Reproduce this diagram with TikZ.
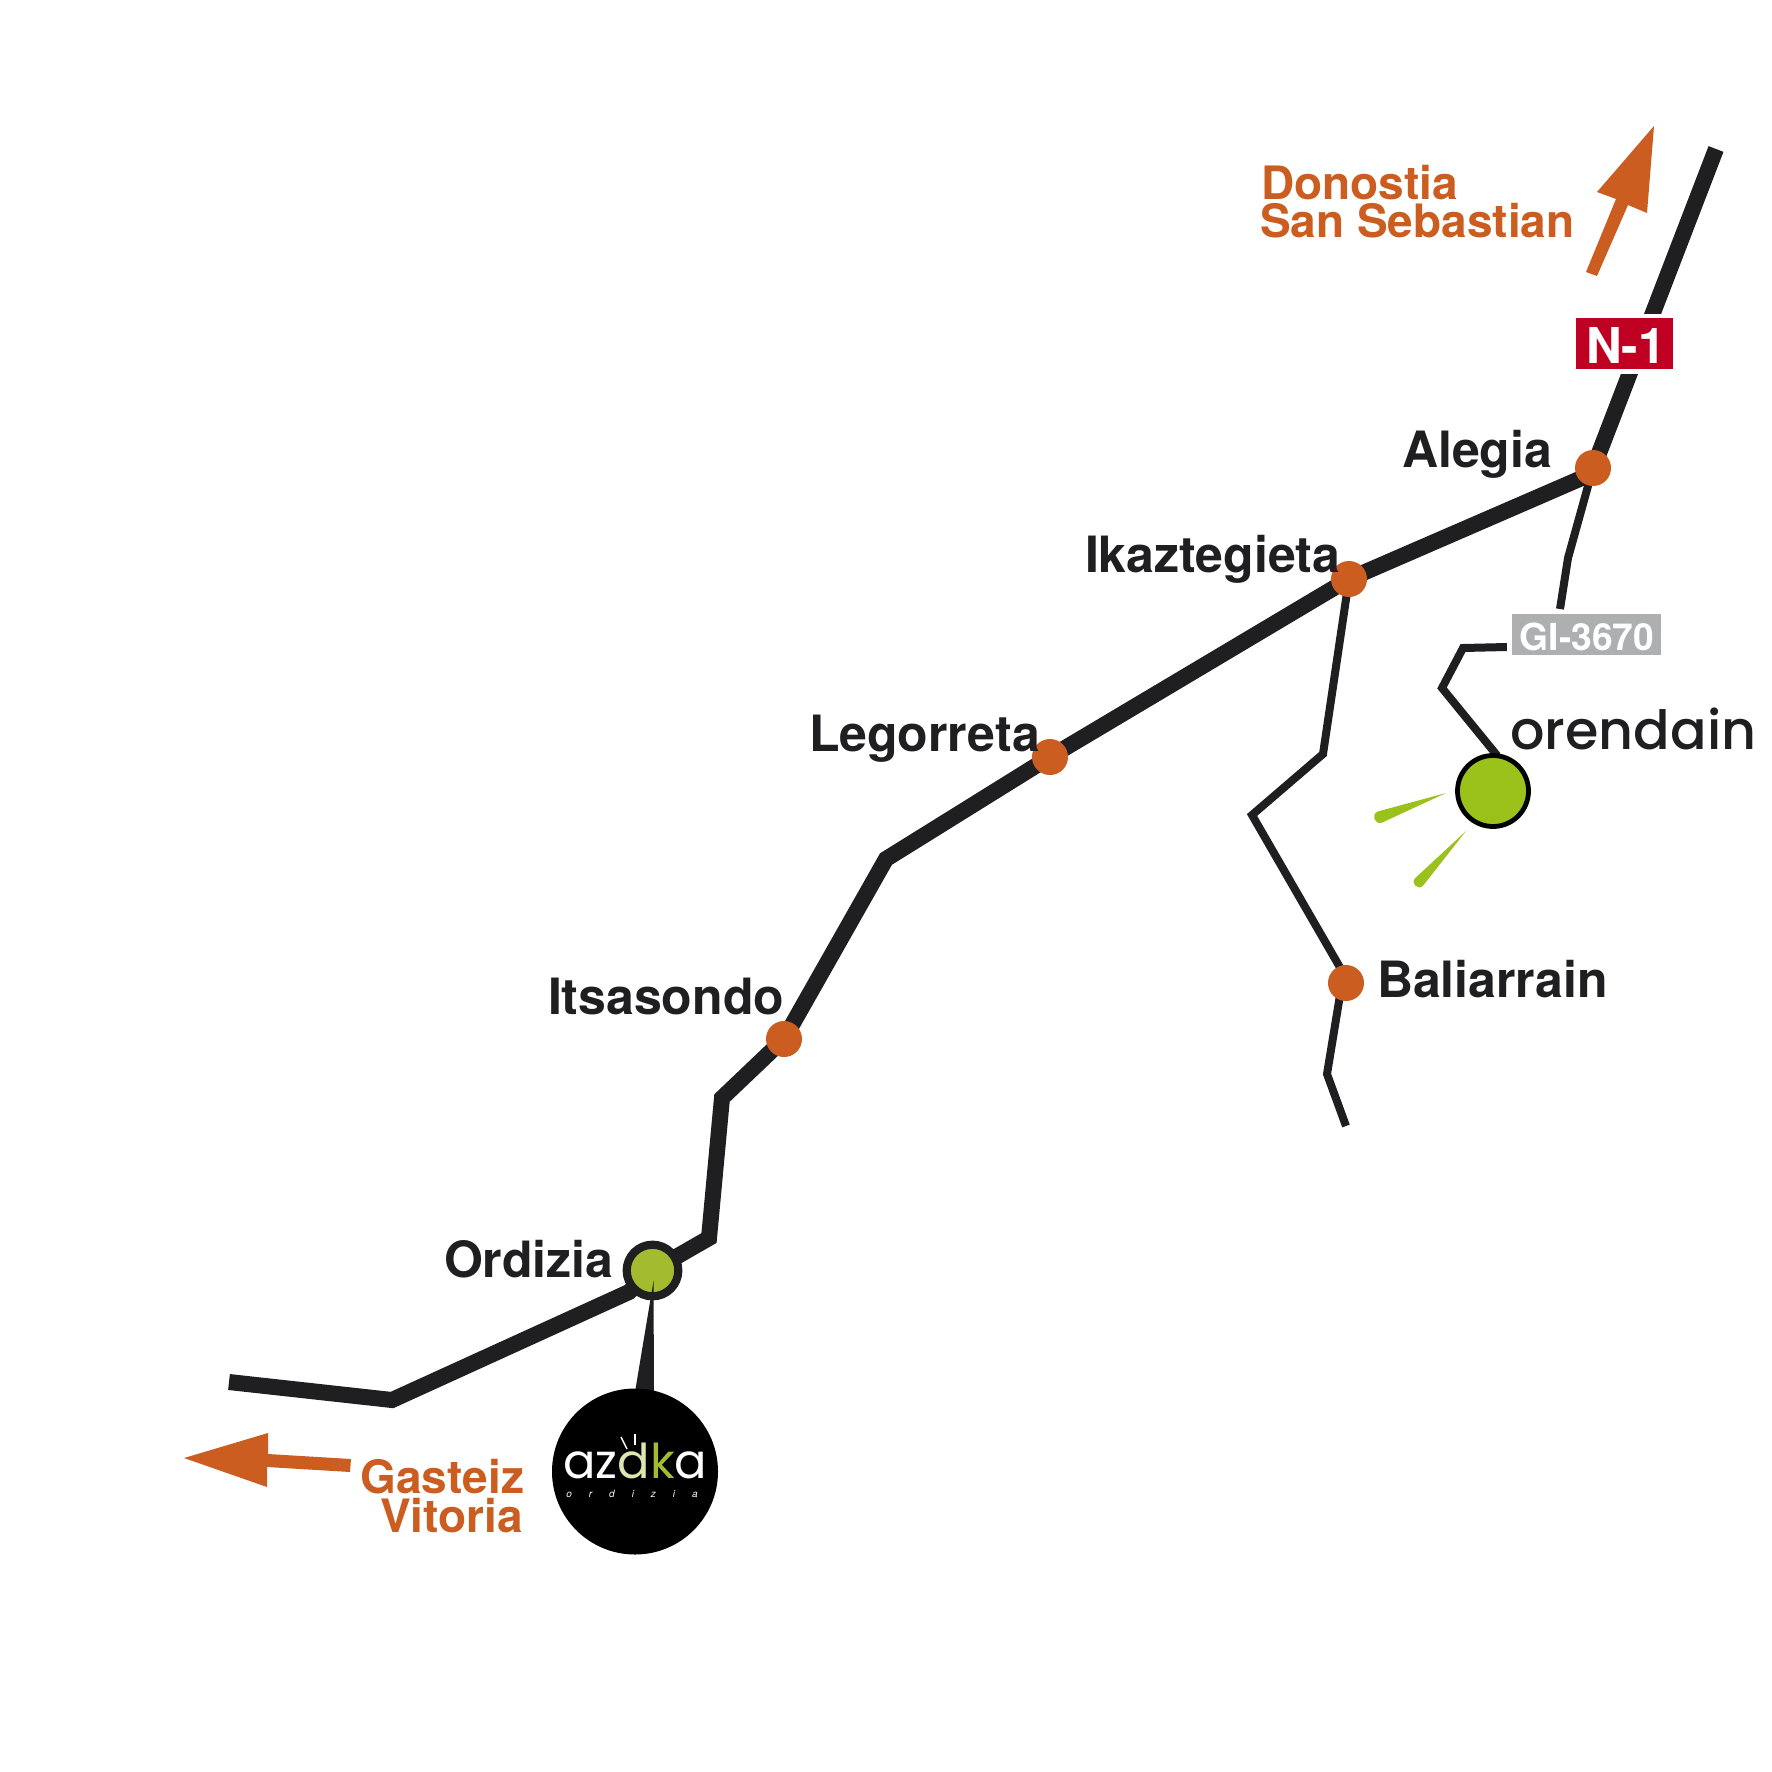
\documentclass[tikz,border=0pt]{standalone}
\usepackage{fontspec}
\usetikzlibrary{backgrounds}
\setmainfont{TeX Gyre Heros}
\newfontfamily\logofont{Poppins}
\newfontfamily\orenfont[UprightFont=* Medium]{Poppins}
\newfontfamily\ordfont[LetterSpace=170]{TeX Gyre Heros}
\definecolor{roadc}{HTML}{1F1F21}
\definecolor{orangec}{HTML}{CA5D1F}
\definecolor{limec}{HTML}{9BC21B}
\definecolor{olivec}{HTML}{A3BB2F}
\definecolor{redc}{HTML}{BF0023}
\definecolor{greyc}{HTML}{AEAFB1}
\definecolor{paled}{HTML}{DDE5B0}
\tikzset{
  road/.style={draw=roadc,line width=8pt,line join=miter,miter limit=10},
  lane/.style={draw=roadc,line width=4pt,line join=miter,miter limit=10},
  stop/.style={circle,fill=orangec,minimum size=18pt,inner sep=0pt,outer sep=0pt},
  town/.style={anchor=base west,inner sep=0pt,outer sep=0pt,text=roadc,font=\fontsize{25pt}{25pt}\selectfont\bfseries},
  dest/.style={anchor=base west,inner sep=0pt,outer sep=0pt,text=orangec,font=\fontsize{23pt}{23pt}\selectfont\bfseries},
  sign/.style={inner sep=0pt,outer sep=0pt,text=white,font=\bfseries},
  ray/.style={fill=limec,draw=none},
  tag/.style={fill=orangec,draw=none}
}
\begin{document}
\begin{tikzpicture}[x=0.5pt,y=-0.5pt]
\useasboundingbox (0,0) rectangle (1772,1772);

% stops
\node[stop] (alegia) at (1593,468) {};
\node[stop] (ikaz) at (1349,579) {};
\node[stop] (legorreta) at (1050,757) {};
\node[stop] (itsasondo) at (784,1039) {};
\node[stop] (baliarrain) at (1346,983) {};
\node[circle,fill=olivec,draw=roadc,line width=4.1pt,minimum size=25.8pt,inner sep=0pt,outer sep=0pt] (ordizia) at (652.5,1270.5) {};
\node[circle,fill=limec,draw=black,line width=2.4pt,minimum size=35.5pt,inner sep=0pt,outer sep=0pt] (orendain) at (1493,791) {};

% free ends and bends
\coordinate (ntop) at (1716,149);
\coordinate (a1) at (1591,474);
\coordinate (b1) at (886,859);
\coordinate (b2) at (722,1098);
\coordinate (b3) at (709,1238);
\coordinate (b4) at (629,1292);
\coordinate (b5) at (392,1400);
\coordinate (nend) at (229,1382);
\coordinate (c1) at (1568,558);
\coordinate (c2) at (1560,609);
\coordinate (d1) at (1507,647);
\coordinate (d2) at (1463,648);
\coordinate (d3) at (1442,688);
\coordinate (e1) at (1323,754);
\coordinate (e2) at (1252,815);
\coordinate (e3) at (1349,983);
\coordinate (e3b) at (1342,983);
\coordinate (e4) at (1327,1074);
\coordinate (e5) at (1346,1126);

\begin{scope}[on background layer]
\fill[white] (0,0) rectangle (1772,1772);
\draw[road] (ntop) -- (a1) -- (ikaz.center) -- (legorreta.center) -- (b1) -- (itsasondo.center) -- (b2) -- (b3) -- (ordizia.center);
\draw[road] (ordizia.center) -- (b4) -- (b5) -- (nend);
\draw[lane] (alegia.center) -- (c1) -- (c2);
\draw[lane] (d1) -- (d2) -- (d3) -- (orendain.83);
\draw[lane] (ikaz.center) -- (e1) -- (e2) -- (e3) -- (e3b) -- (e4) -- (e5);
\end{scope}

% spike from Ordizia to the azka disc
\fill[roadc] (653.5,1281) -- (635,1392) -- (654,1392) -- cycle;
\node[circle,fill=black,minimum size=83pt,inner sep=0pt,outer sep=0pt] (azkoa) at (635,1471.5) {};

% road signs
\node[fill=redc,draw=white,line width=2.25pt,minimum width=50.75pt,minimum height=27.75pt,inner sep=0pt] (n1) at (1624.2,343.5) {};
\node[sign,anchor=base,font=\fontsize{24.7pt}{24.7pt}\selectfont\bfseries] at (1626,363) {N-1};
\node[fill=greyc,draw=white,line width=2.25pt,minimum width=76.75pt,minimum height=22.75pt,inner sep=0pt] (gi) at (1586.2,634.5) {};
\node[sign,anchor=base,font=\fontsize{18.6pt}{18.6pt}\selectfont\bfseries] at (1587,650.5) {GI-3670};

% town labels
\node[town] (lalegia) at (1402,467) {Alegia};
\node[town] (likaz) at (1085,572) {Ikaztegieta};
\node[town] (lleg) at (809,751) {Legorreta};
\node[town] (lits) at (548,1014) {Itsasondo};
\node[town] (lord) at (444,1277) {Ordizia};
\node[town] (lbal) at (1377,997) {Baliarrain};

% destinations
\node[dest] (don) at (1261,199) {Donostia};
\node[dest] (san) at (1260,237) {San Sebastian};
\node[dest,anchor=base east] (gas) at (524,1493) {Gasteiz};
\node[dest,anchor=base east] (vit) at (523,1532) {Vitoria};

% direction arrows
\fill[tag] (1654,126) -- (1597,192) -- (1616,199) -- (1586,272) -- (1597,276) -- (1628,205) -- (1647,213) -- cycle;
\fill[tag] (184,1458) -- (268,1433) -- (268,1454) -- (351,1459) -- (350,1472) -- (267,1467) -- (267,1487) -- cycle;

% rays
\fill[ray] (1446,793) -- (1382,822.6) .. controls (1374.6,825.3) and (1370.6,814.1) .. (1378,811.4) -- cycle;
\fill[ray] (1466,831) -- (1423,885.7) .. controls (1418.3,890.8) and (1410.3,883.4) .. (1415,878.3) -- cycle;

% orendain wordmark
\node[anchor=base west,inner sep=0pt,text=roadc,font=\orenfont\fontsize{27pt}{27pt}\selectfont] (oren) at (1510,749) {orendain};

% azka wordmark
\node[anchor=base west,inner sep=0pt,font=\logofont\fontsize{24pt}{24pt}\selectfont] (azka) at (563,1478) {\textcolor{white}{az}\textcolor{paled}{d}\textcolor{olivec}{k}\textcolor{white}{a}};
\draw[white,line width=0.7pt] (621,1437) -- (627,1449);
\draw[white,line width=0.7pt] (635,1434) -- (635,1445);
\node[anchor=base west,inner sep=0pt,text=white,font=\ordfont\itshape\fontsize{5pt}{5pt}\selectfont] (ord) at (566,1497) {ordizia};
\end{tikzpicture}
\end{document}
